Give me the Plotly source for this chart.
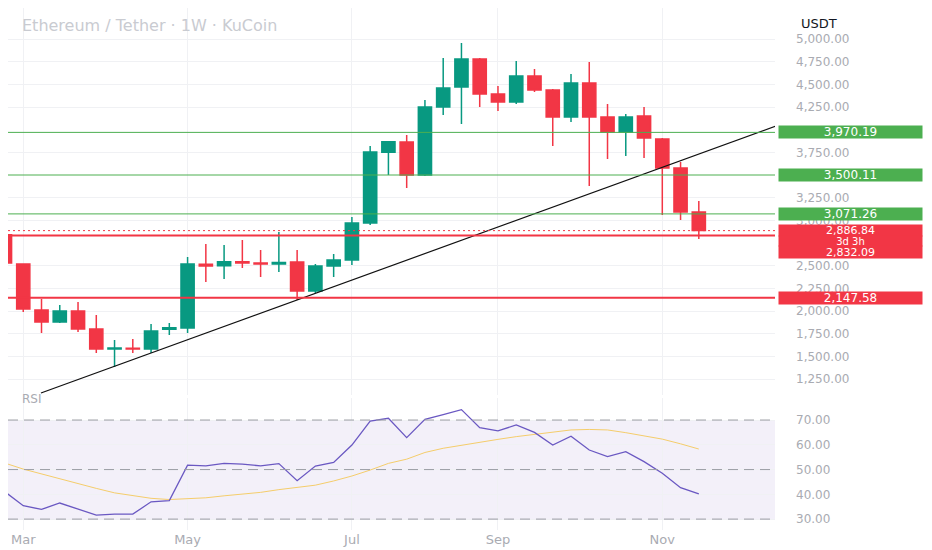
import plotly.graph_objects as go
from plotly.subplots import make_subplots

# weekly candles (Monday of each week), ETH/USDT
weeks = ["2025-02-17", "2025-02-24", "2025-03-03", "2025-03-10", "2025-03-17", "2025-03-24",
         "2025-03-31", "2025-04-07", "2025-04-14", "2025-04-21", "2025-04-28", "2025-05-05",
         "2025-05-12", "2025-05-19", "2025-05-26", "2025-06-02", "2025-06-09", "2025-06-16",
         "2025-06-23", "2025-06-30", "2025-07-07", "2025-07-14", "2025-07-21", "2025-07-28",
         "2025-08-04", "2025-08-11", "2025-08-18", "2025-08-25", "2025-09-01", "2025-09-08",
         "2025-09-15", "2025-09-22", "2025-09-29", "2025-10-06", "2025-10-13", "2025-10-20",
         "2025-10-27", "2025-11-03", "2025-11-10", "2025-11-17"]
opens = [2690, 2840, 2519, 2012, 1880, 2001, 1803, 1582, 1590, 1582, 1800, 1813,
         2515, 2500, 2544, 2530, 2520, 2541, 2222, 2497, 2563, 2971, 3750, 3864,
         3500, 4250, 4470, 4780, 4394, 4305, 4592, 4438, 4140, 4515, 4140, 3975,
         4151, 3897, 3577, 3093]
highs = [2850, 2850, 2525, 2133, 2067, 2100, 1957, 1681, 1692, 1858, 1869, 2596,
         2740, 2729, 2784, 2673, 2872, 2673, 2519, 2630, 3037, 3820, 3870, 3942,
         4327, 4790, 4956, 4790, 4482, 4757, 4669, 4449, 4614, 4746, 4283, 4173,
         4250, 3908, 3644, 3214]
lows = [2600, 2089, 1990, 1758, 1869, 1770, 1538, 1384, 1538, 1538, 1736, 1758,
        2320, 2354, 2475, 2376, 2431, 2122, 2200, 2376, 2508, 2950, 3500, 3357,
        3490, 4162, 4063, 4250, 4206, 4283, 4416, 3820, 4085, 3379, 3677, 3710,
        3688, 3060, 3004, 2795]
closes = [2840, 2530, 2023, 1880, 2001, 1803, 1582, 1592, 1582, 1780, 1817, 2519,
          2497, 2544, 2530, 2520, 2535, 2222, 2497, 2563, 2971, 3754, 3867, 3500,
          4250, 4460, 4780, 4394, 4305, 4592, 4438, 4140, 4515, 4140, 3975, 4140,
          3908, 3577, 3093, 2886.84]

rsi = [46.0, 41.0, 35.4, 33.9, 36.5, 34.0, 31.6, 32.0, 32.0, 37.0, 37.5, 51.8,
       51.5, 52.5, 52.2, 51.5, 52.4, 45.5, 51.4, 52.9, 59.9, 69.6, 70.7, 62.9,
       70.3, 72.2, 74.2, 66.9, 65.6, 68.0, 65.0, 59.9, 63.5, 57.9, 55.2, 57.2,
       53.2, 48.5, 42.7, 40.2]
rsi_ma = [54.5, 52.6, 50.2, 48.2, 46.2, 44.4, 42.4, 40.6, 39.4, 38.4, 37.9, 38.1,
          38.6, 39.4, 40.0, 40.8, 41.9, 42.7, 43.7, 45.4, 47.4, 49.8, 52.5, 54.2,
          56.9, 58.6, 59.9, 61.1, 62.2, 63.3, 64.3, 65.3, 66.0, 66.2, 66.0, 64.9,
          63.5, 62.3, 60.4, 58.3]

# drawn levels and trendline
green_levels = [3970.19, 3500.11, 3071.26]
red_levels = [2832.09, 2147.58]
countdown = "3d 3h"
trend_x = ["2025-03-09 19:00", "2025-12-16 14:00"]
trend_y = [1096, 4040]

# price axis labels that show (the others sit under the level tags)
price_ticks = [1250, 1500, 1750, 2000, 2250, 2500, 3000, 3250,
               3750, 4250, 4500, 4750, 5000]
rsi_ticks = [30, 40, 50, 60, 70]
rsi_dashed = [30, 50, 70]
month_ticks = ["2025-03-03", "2025-05-05", "2025-07-07", "2025-09-01", "2025-11-03"]
month_labels = ["Mar", "May", "Jul", "Sep", "Nov"]

UP = "#089981"
DOWN = "#f23645"
GREEN_LVL = "#4caf50"
GRID = "#f0f1f4"
TXT = "#a9abb2"
FONT = "DejaVu Sans"

# page has an 8px body margin, so the plot area is laid out 8px up/left
PW = 767   # plot area width
PH = 522   # plot area height

fig = make_subplots(rows=2, cols=1, shared_xaxes=True)

fig.add_trace(go.Candlestick(
    x=weeks, open=opens, high=highs, low=lows, close=closes,
    increasing=dict(line=dict(color=UP, width=1.5), fillcolor=UP),
    decreasing=dict(line=dict(color=DOWN, width=1.5), fillcolor=DOWN),
    showlegend=False, hoverinfo="skip"), row=1, col=1)

fig.add_trace(go.Scatter(x=trend_x, y=trend_y, mode="lines",
                         line=dict(color="#111111", width=1.2),
                         showlegend=False, hoverinfo="skip"), row=1, col=1)

fig.add_trace(go.Scatter(x=weeks, y=rsi_ma, mode="lines",
                         line=dict(color="#f5cd6b", width=1),
                         showlegend=False, hoverinfo="skip"), row=2, col=1)
fig.add_trace(go.Scatter(x=weeks, y=rsi, mode="lines",
                         line=dict(color="#6a58c2", width=1.3),
                         showlegend=False, hoverinfo="skip"), row=2, col=1)

# horizontal levels
for lv in green_levels:
    fig.add_shape(type="line", xref="x domain", yref="y", x0=0, x1=1, y0=lv, y1=lv,
                  line=dict(color=GREEN_LVL, width=1))
for lv in red_levels:
    fig.add_shape(type="line", xref="x domain", yref="y", x0=0, x1=1, y0=lv, y1=lv,
                  line=dict(color=DOWN, width=2))
fig.add_shape(type="line", xref="x domain", yref="y", x0=0, x1=1,
              y0=closes[-1], y1=closes[-1], line=dict(color=DOWN, width=1, dash="2px,3px"))

# RSI band + dashed lines
fig.add_shape(type="rect", xref="x2 domain", yref="y2", x0=0, x1=1,
              y0=rsi_dashed[0], y1=rsi_dashed[-1], fillcolor="rgba(126,87,194,0.09)",
              line=dict(width=0), layer="below")
for lv in rsi_dashed:
    fig.add_shape(type="line", xref="x2 domain", yref="y2", x0=0, x1=1, y0=lv, y1=lv,
                  line=dict(color="#9a9ca4", width=1, dash="10px,6px"))

# price labels on the axis
lbl_x = 770 / PW
box = dict(xref="paper", yref="y", x=lbl_x, xanchor="left", showarrow=False,
           width=143, borderpad=0)
for lv in green_levels:
    fig.add_annotation(box, y=lv, text=f"{lv:,.2f}", bgcolor=GREEN_LVL, height=12,
                       font=dict(family=FONT, size=12, color="white"))
fig.add_annotation(box, y=red_levels[1], text=f"{red_levels[1]:,.2f}", bgcolor=DOWN,
                   height=12, font=dict(family=FONT, size=12, color="white"))
# last price, countdown and the 2,832 level stacked as one red block
fig.add_annotation(box, y=closes[-1], text=f"{closes[-1]:,.2f}", bgcolor=DOWN,
                   height=11, font=dict(family=FONT, size=11, color="white"))
fig.add_annotation(box, y=closes[-1], yshift=-10, text=countdown, bgcolor=DOWN,
                   height=10, font=dict(family=FONT, size=10, color="white"))
fig.add_annotation(box, y=red_levels[0], yshift=-16, text=f"{red_levels[0]:,.2f}",
                   bgcolor=DOWN, height=12, font=dict(family=FONT, size=11, color="white"))

# header texts
fig.add_annotation(xref="paper", yref="paper", x=12 / PW, y=1 - 6 / PH, xanchor="left",
                   text="Ethereum / Tether · 1W · KuCoin", showarrow=False,
                   font=dict(family=FONT, size=16, color="#c9cbd1"))
fig.add_annotation(xref="paper", yref="paper", x=831 / PW, y=1 - 6 / PH,
                   text="USDT", showarrow=False,
                   font=dict(family=FONT, size=13, color="#131722"))
fig.add_annotation(xref="paper", yref="paper", x=12 / PW, y=1 - 400 / PH, xanchor="left",
                   text="RSI", showarrow=False,
                   font=dict(family=FONT, size=12, color=TXT))

fig.update_layout(
    width=932, height=550,
    margin=dict(l=0, r=932 - PW, t=0, b=550 - PH),
    paper_bgcolor="white", plot_bgcolor="white",
    boxgap=0.15, boxgroupgap=0.15,
    showlegend=False,
    font=dict(family=FONT, color=TXT, size=12),
)
xr = ["2025-02-25 03:40", "2025-12-16 05:00"]
fig.update_xaxes(range=xr, tickvals=month_ticks, ticktext=month_labels,
                 showgrid=True, gridcolor=GRID, zeroline=False, showline=False,
                 rangeslider_visible=False)
fig.update_xaxes(showticklabels=False, row=1, col=1)
fig.update_xaxes(showticklabels=True, row=2, col=1,
                 tickfont=dict(family=FONT, size=13, color=TXT))
fig.update_yaxes(side="right", range=[1074, 5342], domain=[1 - 387 / PH, 1],
                 tickvals=price_ticks, tickformat=",.2f", showgrid=True, gridcolor=GRID,
                 zeroline=False, ticklabelstandoff=20,
                 tickfont=dict(family=FONT, size=12, color=TXT), row=1, col=1)
fig.update_yaxes(side="right", range=[25.6, 78.9], domain=[0, 1 - 390 / PH],
                 tickvals=rsi_ticks, tickformat=".2f", showgrid=True, gridcolor=GRID,
                 zeroline=False, ticklabelstandoff=20,
                 tickfont=dict(family=FONT, size=12, color=TXT), row=2, col=1)

fig.write_html("out.html")
